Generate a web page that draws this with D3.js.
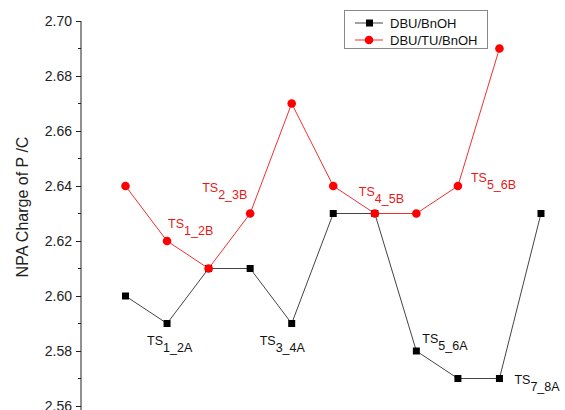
<!DOCTYPE html>
<html>
<head>
<meta charset="utf-8">
<script src="https://cdn.jsdelivr.net/npm/d3@7"></script>
<style>
  body { margin: 0; background: #fff; }
  svg { display: block; font-family: Arial, "Liberation Sans", sans-serif; }
</style>
</head>
<body>
<svg id="chart" width="565" height="410"></svg>
<script>
// values
const steps = [1, 2, 3, 4, 5, 6, 7, 8, 9, 10, 11];
const dbuBnoh = [2.60, 2.59, 2.61, 2.61, 2.59, 2.63, 2.63, 2.58, 2.57, 2.57, 2.63];
const dbuTuBnoh = [2.64, 2.62, 2.61, 2.63, 2.67, 2.64, 2.63, 2.63, 2.64, 2.69];
const seriesNames = ['DBU/BnOH', 'DBU/TU/BnOH'];
const yTicks = [2.56, 2.58, 2.60, 2.62, 2.64, 2.66, 2.68, 2.70];

// transition state labels: which series, which step, text and subscript
const tsLabels = [
  { s: 0, i: 2, sub: '1_2A' },
  { s: 0, i: 5, sub: '3_4A' },
  { s: 0, i: 8, sub: '5_6A' },
  { s: 0, i: 10, sub: '7_8A' },
  { s: 1, i: 2, sub: '1_2B' },
  { s: 1, i: 4, sub: '2_3B' },
  { s: 1, i: 7, sub: '4_5B' },
  { s: 1, i: 9, sub: '5_6B' }
];
// label offsets from their point (px)
const labelOffsets = [[-20, 21], [-32, 21], [6, -8], [15, 5], [1, -13], [-48, -22], [-16, -18], [13, -4]];

const svg = d3.select('#chart');
const x = d3.scaleLinear().domain([1, 11]).range([125.5, 541]);
const y = d3.scaleLinear().domain([2.56, 2.70]).range([406, 21]);
const colors = ['#000', '#ff0000'];
const lineColors = ['#444', '#f03030'];

// y axis
const yAxis = svg.append('g').attr('transform', 'translate(81,0)');
yAxis.call(d3.axisLeft(y).tickValues(yTicks).tickFormat(d3.format('.2f')).tickSize(5).tickPadding(4));
yAxis.select('.domain').attr('d', 'M0,21V412').attr('stroke', '#222');
yAxis.selectAll('.tick line').attr('stroke', '#222');
yAxis.selectAll('.tick text').attr('font-size', 14).attr('fill', '#222')
  .attr('font-family', 'Arial, "Liberation Sans", sans-serif');
const minor = d3.range(2.57, 2.70, 0.02);
yAxis.selectAll('.minor').data(minor).join('line')
  .attr('x1', -3).attr('x2', 0)
  .attr('y1', d => y(d)).attr('y2', d => y(d))
  .attr('stroke', '#222');

svg.append('text')
  .attr('transform', 'translate(28,207) rotate(-90)')
  .attr('text-anchor', 'middle')
  .attr('font-size', 16)
  .attr('fill', '#222')
  .text('NPA Charge of P /C');

// series
const seriesData = [dbuBnoh, dbuTuBnoh].map(vals => vals.map((v, k) => ({ x: steps[k], y: v })));
const line = d3.line().x(d => x(d.x)).y(d => y(d.y));

seriesData.forEach((pts, s) => {
  svg.append('path').datum(pts)
    .attr('d', line).attr('fill', 'none')
    .attr('stroke', lineColors[s]).attr('stroke-width', 1);
});
// squares
svg.selectAll('.sq').data(seriesData[0]).join('rect')
  .attr('x', d => x(d.x) - 3.5).attr('y', d => y(d.y) - 3.5)
  .attr('width', 7).attr('height', 7).attr('fill', colors[0]);
// circles
svg.selectAll('.ci').data(seriesData[1]).join('circle')
  .attr('cx', d => x(d.x)).attr('cy', d => y(d.y)).attr('r', 4.3)
  .attr('fill', colors[1]);

// labels
tsLabels.forEach((l, k) => {
  const vals = l.s === 0 ? dbuBnoh : dbuTuBnoh;
  const px = x(steps[l.i - 1]) + labelOffsets[k][0];
  const py = y(vals[l.i - 1]) + labelOffsets[k][1];
  const t = svg.append('text').attr('x', px).attr('y', py)
    .attr('font-size', 12.5).attr('fill', l.s === 0 ? '#111' : '#e81818');
  t.append('tspan').text('TS');
  t.append('tspan').attr('dy', 7).text(l.sub);
});

// legend
const lg = svg.append('g');
lg.append('rect').attr('x', 344.5).attr('y', 10.5).attr('width', 143).attr('height', 38)
  .attr('fill', '#fff').attr('stroke', '#888');
seriesNames.forEach((n, s) => {
  const ly = 23 + s * 17;
  lg.append('line').attr('x1', 355).attr('x2', 383).attr('y1', ly).attr('y2', ly)
    .attr('stroke', lineColors[s]);
  if (s === 0) {
    lg.append('rect').attr('x', 366).attr('y', ly - 3.5).attr('width', 7).attr('height', 7).attr('fill', colors[0]);
  } else {
    lg.append('circle').attr('cx', 369).attr('cy', ly).attr('r', 4.3).attr('fill', colors[1]);
  }
  lg.append('text').attr('x', 390).attr('y', ly + 4.5).attr('font-size', 13)
    .attr('fill', '#111').text(n);
});
</script>
</body>
</html>
